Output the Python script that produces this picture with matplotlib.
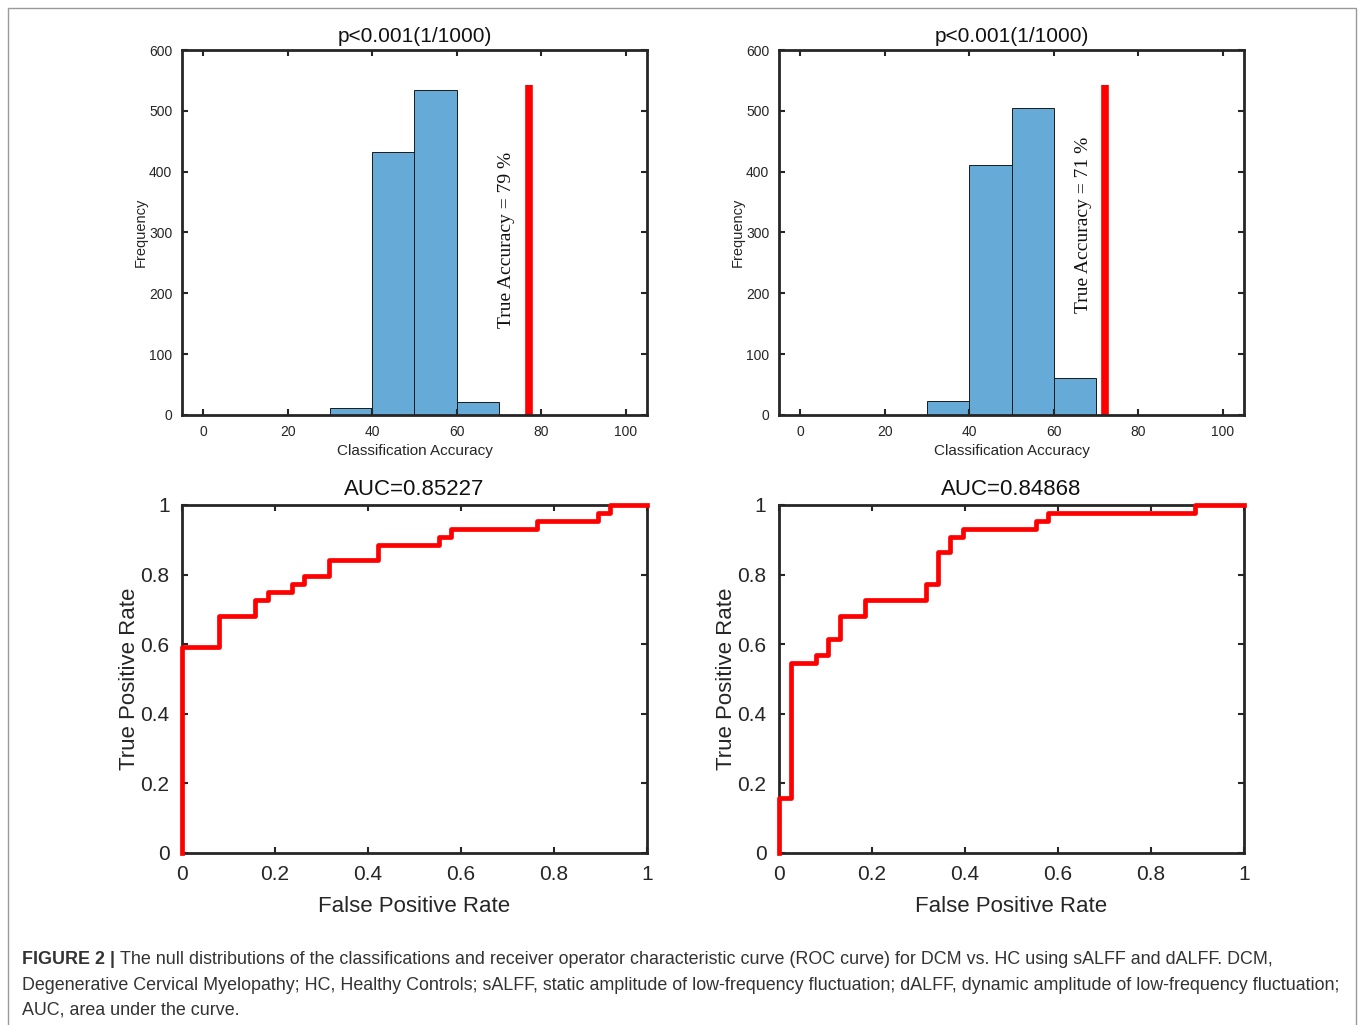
import matplotlib
matplotlib.use("Agg")
import matplotlib.pyplot as plt
from matplotlib.patches import Rectangle

plt.rcParams.update({"font.family": ["Liberation Sans", "DejaVu Sans"]})

# null-distribution histograms (bin edges + counts)
bin_edges = [30, 40, 50, 60, 70]
counts_s = [12, 432, 535, 22]
counts_d = [23, 411, 504, 61]
true_acc_pos = [77, 72]         # where the red bar was drawn
true_acc_label = ["True Accuracy = 79 %", "True Accuracy = 71 %"]
red_bar_top = 542

# ROC vertices (steps-pre)
fpr_s = [0, 0.0789, 0.1579, 0.1842, 0.2368, 0.2632, 0.3158, 0.4211,
         0.5526, 0.5789, 0.7632, 0.8947, 0.9211, 1.0]
tpr_s = [0, 0.5909, 0.6818, 0.7273, 0.7500, 0.7727, 0.7955, 0.8409,
         0.8864, 0.9091, 0.9318, 0.9545, 0.9773, 1.0]
fpr_d = [0, 0.0263, 0.0789, 0.1053, 0.1316, 0.1842, 0.3158, 0.3421,
         0.3684, 0.3947, 0.5526, 0.5789, 0.8947, 1.0]
tpr_d = [0, 0.1591, 0.5455, 0.5682, 0.6136, 0.6818, 0.7273, 0.7727,
         0.8636, 0.9091, 0.9318, 0.9545, 0.9773, 1.0]
auc_vals = ["0.85227", "0.84868"]

W, H = 1360, 1025
fig = plt.figure(figsize=(W / 100, H / 100), dpi=100)

AX_COL = "#262626"
BAR = "#66AAD7"


def px_axes(left, top, right, bottom):
    return fig.add_axes([left / W, 1 - bottom / H, (right - left) / W,
                         (bottom - top) / H])


def style(ax, lsize, pad):
    for s in ax.spines.values():
        s.set_linewidth(2.0)
        s.set_color(AX_COL)
    ax.tick_params(direction="in", top=True, right=True, length=4,
                   width=1.5, colors=AX_COL, labelsize=lsize, pad=pad)


# ---------------------------------------------------------------- histograms
for i, (counts, left) in enumerate([(counts_s, 182), (counts_d, 779)]):
    ax = px_axes(left, 50, left + 465, 415)
    ax.bar(bin_edges[:-1], counts, width=10, align="edge", color=BAR,
           edgecolor="#1a1a1a", linewidth=0.7)
    ax.plot([true_acc_pos[i]] * 2, [0, red_bar_top], color="#ff0000",
            lw=5.5, solid_capstyle="butt")
    tx = [71.8, 67.1][i]
    ty = [288, 312][i]
    ax.text(tx, ty, true_acc_label[i], rotation=90, ha="center",
            va="center", family="Liberation Serif", fontsize=14,
            color="#111111")
    ax.set_xlim(-5, 105)
    ax.set_ylim(0, 600)
    ax.set_xticks(range(0, 101, 20))
    ax.set_yticks(range(0, 601, 100))
    style(ax, 10, 7)
    ax.set_xlabel("Classification Accuracy", fontsize=11, color=AX_COL,
                  labelpad=4)
    ax.set_ylabel("Frequency", fontsize=10.5, color=AX_COL, labelpad=1)
    ax.set_title("p<0.001(1/1000)", fontsize=15, color="#111111", pad=6)

# ---------------------------------------------------------------- ROC
for i, (fpr, tpr, left) in enumerate([(fpr_s, tpr_s, 182),
                                      (fpr_d, tpr_d, 779)]):
    ax = px_axes(left, 505, left + 465, 853)
    ax.plot(fpr, tpr, drawstyle="steps-pre", color="#ff0000", lw=3.4,
            clip_on=False, zorder=5)
    ax.set_xlim(0, 1)
    ax.set_ylim(0, 1)
    ax.set_xticks([0, 0.2, 0.4, 0.6, 0.8, 1])
    ax.set_xticklabels(["0", "0.2", "0.4", "0.6", "0.8", "1"])
    ax.set_yticks([0, 0.2, 0.4, 0.6, 0.8, 1])
    ax.set_yticklabels(["0", "0.2", "0.4", "0.6", "0.8", "1"])
    style(ax, 15, 9)
    ax.set_xlabel("False Positive Rate", fontsize=16, color=AX_COL,
                  labelpad=8)
    ax.set_ylabel("True Positive Rate", fontsize=16, color=AX_COL,
                  labelpad=0)
    ax.set_title(f"AUC={auc_vals[i]}", fontsize=16, color="#111111", pad=7)

# ---------------------------------------------------------------- frame + caption
fig.patches.append(Rectangle((8 / W, -0.01), (1356 - 8) / W, 1 - 8 / H + 0.01,
                             transform=fig.transFigure, fill=False,
                             edgecolor="#9a9a9a", lw=1.0, clip_on=False))

cap_col = "#333333"
cap_size = 12.85
t0 = fig.text(22 / W, 1 - 960 / H, "FIGURE 2 |", fontsize=cap_size,
              fontweight="bold", color=cap_col, va="center", ha="left")
r = fig.canvas.get_renderer()
bb = t0.get_window_extent(r)
fig.text((bb.x1 + 5) / W, 1 - 960 / H,
         "The null distributions of the classifications and receiver operator "
         "characteristic curve (ROC curve) for DCM vs. HC using sALFF and dALFF. DCM,",
         fontsize=cap_size, color=cap_col, va="center", ha="left")
fig.text(22 / W, 1 - 985 / H,
         "Degenerative Cervical Myelopathy; HC, Healthy Controls; sALFF, static "
         "amplitude of low-frequency fluctuation; dALFF, dynamic amplitude of "
         "low-frequency fluctuation;",
         fontsize=cap_size, color=cap_col, va="center", ha="left")
fig.text(22 / W, 1 - 1010 / H, "AUC, area under the curve.",
         fontsize=cap_size, color=cap_col, va="center", ha="left")

fig.savefig("out.png", dpi=100)
